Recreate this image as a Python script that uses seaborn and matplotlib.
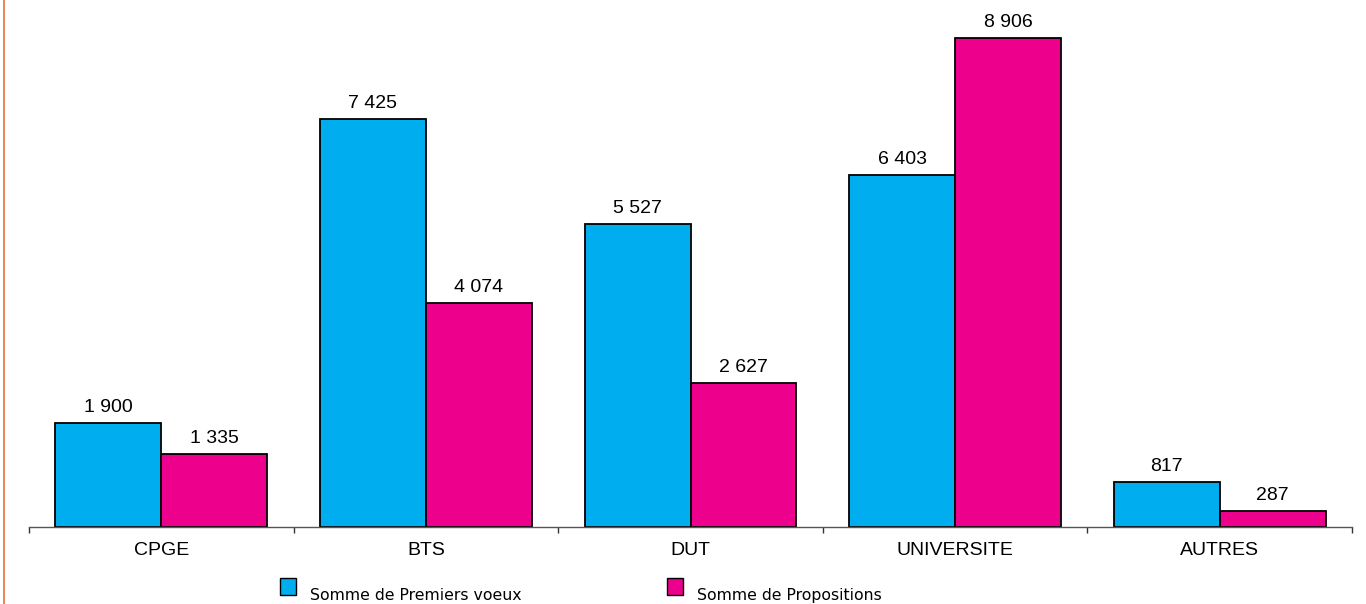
import pandas as pd
import seaborn as sns
import matplotlib.pyplot as plt
from matplotlib.patches import Rectangle
from matplotlib.lines import Line2D

# Data
categories = ["CPGE", "BTS", "DUT", "UNIVERSITE", "AUTRES"]
premiers_voeux = [1900, 7425, 5527, 6403, 817]
propositions = [1335, 4074, 2627, 8906, 287]
series_names = ["Somme de Premiers voeux", "Somme de Propositions"]
colors = ["#00AEEF", "#EC008C"]

df = pd.DataFrame({
    "cat": categories * 2,
    "val": premiers_voeux + propositions,
    "serie": [series_names[0]] * 5 + [series_names[1]] * 5,
})

sns.set_style("white")
plt.rcParams["font.family"] = ["Liberation Sans", "DejaVu Sans"]
plt.rcParams["text.color"] = "black"
plt.rcParams["xtick.color"] = "black"

W, H = 1366, 604
fig = plt.figure(figsize=(W / 100, H / 100), dpi=100)
ax = fig.add_axes([29 / W, 77 / H, 1323 / W, 527 / H])

sns.barplot(data=df, x="cat", y="val", hue="serie", order=categories,
            hue_order=series_names, palette=colors, width=0.8,
            edgecolor="black", linewidth=1.3, saturation=1, ax=ax, legend=False)

for cont in ax.containers:
    ax.bar_label(cont, labels=[f"{int(v):,}".replace(",", " ") for v in cont.datavalues],
                 padding=5, fontsize=14, color="black")

ax.set_ylim(0, 9598)
ax.set_xlim(-0.5, len(categories) - 0.5)
ax.set_xlabel("")
ax.set_ylabel("")
ax.set_yticks([])
for s in ["left", "right", "top"]:
    ax.spines[s].set_visible(False)
ax.spines["bottom"].set_color("#555555")
ax.spines["bottom"].set_linewidth(1)

ax.tick_params(axis="x", which="major", length=0, pad=10.5, labelsize=14, labelcolor="black")
ax.set_xticks([i - 0.5 for i in range(len(categories) + 1)], minor=True)
ax.tick_params(axis="x", which="minor", bottom=True, length=4, width=1,
               color="#333333", direction="out")

# orange frame line at the left edge
fig.add_artist(Line2D([4 / W, 4 / W], [0, 1], color="#E8703A", lw=1.2))

# legend drawn as squares + texts below the axis
for x_sq, x_txt, name, c in zip([280, 667], [310, 697], series_names, colors):
    fig.add_artist(Rectangle((x_sq / W, 1 - 595 / H), 16 / W, 17 / H,
                             transform=fig.transFigure, facecolor=c,
                             edgecolor="black", linewidth=1))
    fig.text(x_txt / W, 1 - 600 / H, name, family="DejaVu Sans", fontsize=11.3,
             va="baseline", ha="left", color="black")

fig.savefig("out.png", dpi=100)
